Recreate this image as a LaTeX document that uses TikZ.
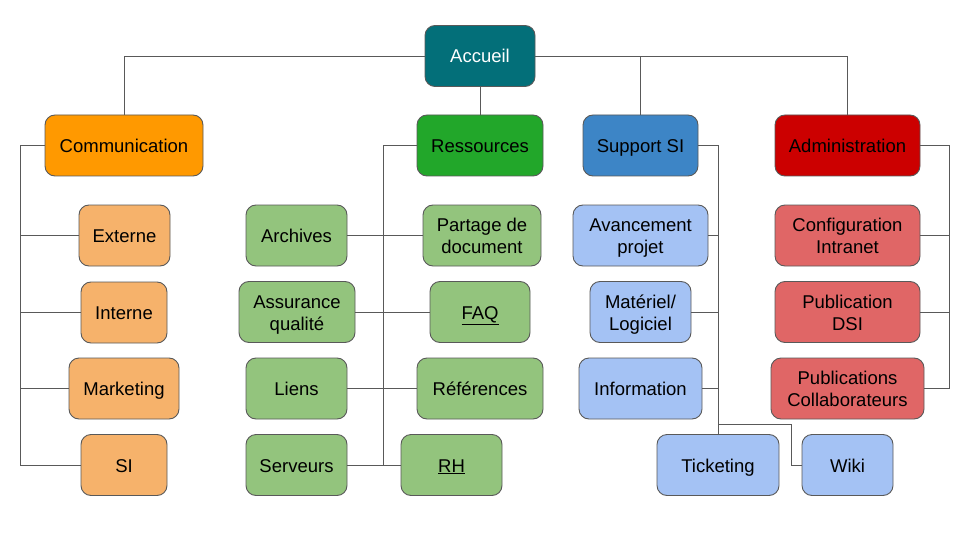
\documentclass[tikz,border=0pt]{standalone}
\usepackage{fontspec}
\setmainfont{Liberation Sans}
\usetikzlibrary{positioning}

\definecolor{accueilc}{HTML}{036F79}
\definecolor{commc}{HTML}{FF9900}
\definecolor{commlc}{HTML}{F6B26B}
\definecolor{resc}{HTML}{22A72A}
\definecolor{reslc}{HTML}{93C47D}
\definecolor{supc}{HTML}{3D85C6}
\definecolor{suplc}{HTML}{A4C2F4}
\definecolor{admc}{HTML}{CC0000}
\definecolor{admlc}{HTML}{E06666}
\definecolor{edgec}{HTML}{595959}

\tikzset{
  box/.style={draw=edgec, line width=0.9pt, rounded corners=10, minimum height=61,
    align=center, inner sep=2, font=\fontsize{18.5}{22}\selectfont},
  line box/.style={box, text height=14.5, text depth=0.5},
  two box/.style={box, text height=36.5, text depth=0.5},
  link/.style={draw=edgec, line width=0.9pt}
}

\begin{document}
\begin{tikzpicture}[x=1pt,y=-1pt]
  \useasboundingbox (0,0) rectangle (960,540);

  % top level
  \node[line box, fill=accueilc, text=white, minimum width=110] (accueil) at (480,56) {Accueil};
  \node[line box, fill=commc, minimum width=158] (comm) at (124,145.5) {Communication};
  \node[line box, fill=resc, minimum width=126] (res) at (480,145.5) {Ressources};
  \node[line box, fill=supc, minimum width=115] (sup) at (640.5,145.5) {Support SI};
  \node[line box, fill=admc, minimum width=145] (adm) at (847.5,145.5) {Administration};

  % communication
  \node[line box, fill=commlc, minimum width=91] (externe) at (124.5,235.5) {Externe};
  \node[line box, fill=commlc, minimum width=86] (interne) at (124,312.5) {Interne};
  \node[line box, fill=commlc, minimum width=110] (marketing) at (124,388.5) {Marketing};
  \node[line box, fill=commlc, minimum width=86] (si) at (124,465) {SI};

  % ressources
  \node[line box, fill=reslc, minimum width=101] (archives) at (296.5,235.5) {Archives};
  \node[two box, fill=reslc, minimum width=116] (assurance) at (297,312) {Assurance\\qualité};
  \node[line box, fill=reslc, minimum width=101] (liens) at (296.5,388.5) {Liens};
  \node[line box, fill=reslc, minimum width=101] (serveurs) at (296.5,465) {Serveurs};
  \node[two box, fill=reslc, minimum width=118] (partage) at (482,235.5) {Partage de\\document};
  \node[line box, fill=reslc, minimum width=100] (faq) at (480,312) {\underline{FAQ}};
  \node[line box, fill=reslc, minimum width=126] (refs) at (480,388.5) {Références};
  \node[line box, fill=reslc, minimum width=101] (rh) at (451.5,465) {\underline{RH}};

  % support SI
  \node[two box, fill=suplc, minimum width=135] (avancement) at (640.5,235.5) {Avancement\\projet};
  \node[two box, fill=suplc, minimum width=101] (materiel) at (640.5,312) {Matériel/\\Logiciel};
  \node[line box, fill=suplc, minimum width=123] (information) at (640.5,388.5) {Information};
  \node[line box, fill=suplc, minimum width=122] (ticket) at (718,465) {Ticketing};
  \node[line box, fill=suplc, minimum width=91] (wiki) at (847.5,465) {Wiki};

  % administration
  \node[two box, fill=admlc, minimum width=145] (config) at (847.5,235.5) {Configuration\\Intranet};
  \node[two box, fill=admlc, minimum width=145] (dsi) at (847.5,312) {Publication\\DSI};
  \node[two box, fill=admlc, minimum width=153] (collab) at (847.5,388.5) {Publications\\Collaborateurs};

  % spines
  \coordinate (cspine) at (20,0);
  \coordinate (rspine) at (383,0);
  \coordinate (aspine) at (949,0);
  \coordinate (wbend) at (791,424);

  % links from accueil
  \path[link] (accueil.west) -| (comm.north);
  \path[link] (accueil.south) -- (res.north);
  \path[link] (accueil.east) -| (sup.north);
  \path[link] (accueil.east) -| (adm.north);

  % communication links
  \path[link] (comm.west) -| (cspine |- si.west) -- (si.west);
  \foreach \n in {externe, interne, marketing} {
    \path[link] (\n.west) -- (\n.west -| cspine);}

  % ressources links
  \path[link] (res.west) -| (rspine |- rh.west) -- (rh.west);
  \path[link] (serveurs.east) -- (rspine |- serveurs.east);
  \foreach \s/\t in {archives/partage, assurance/faq, liens/refs} {
    \path[link] (\s.east) -- (\t.west);}

  % support links
  \path[link] (sup.east) -| (ticket.north);
  \foreach \n in {avancement, materiel, information} {
    \path[link] (\n.east) -- (\n.east -| ticket.north);}
  \path[link] (ticket.north |- wbend) -- (wbend) |- (wiki.west);

  % administration links
  \path[link] (adm.east) -| (aspine |- collab.east) -- (collab.east);
  \foreach \n in {config, dsi} {
    \path[link] (\n.east) -- (\n.east -| aspine);}
\end{tikzpicture}
\end{document}
